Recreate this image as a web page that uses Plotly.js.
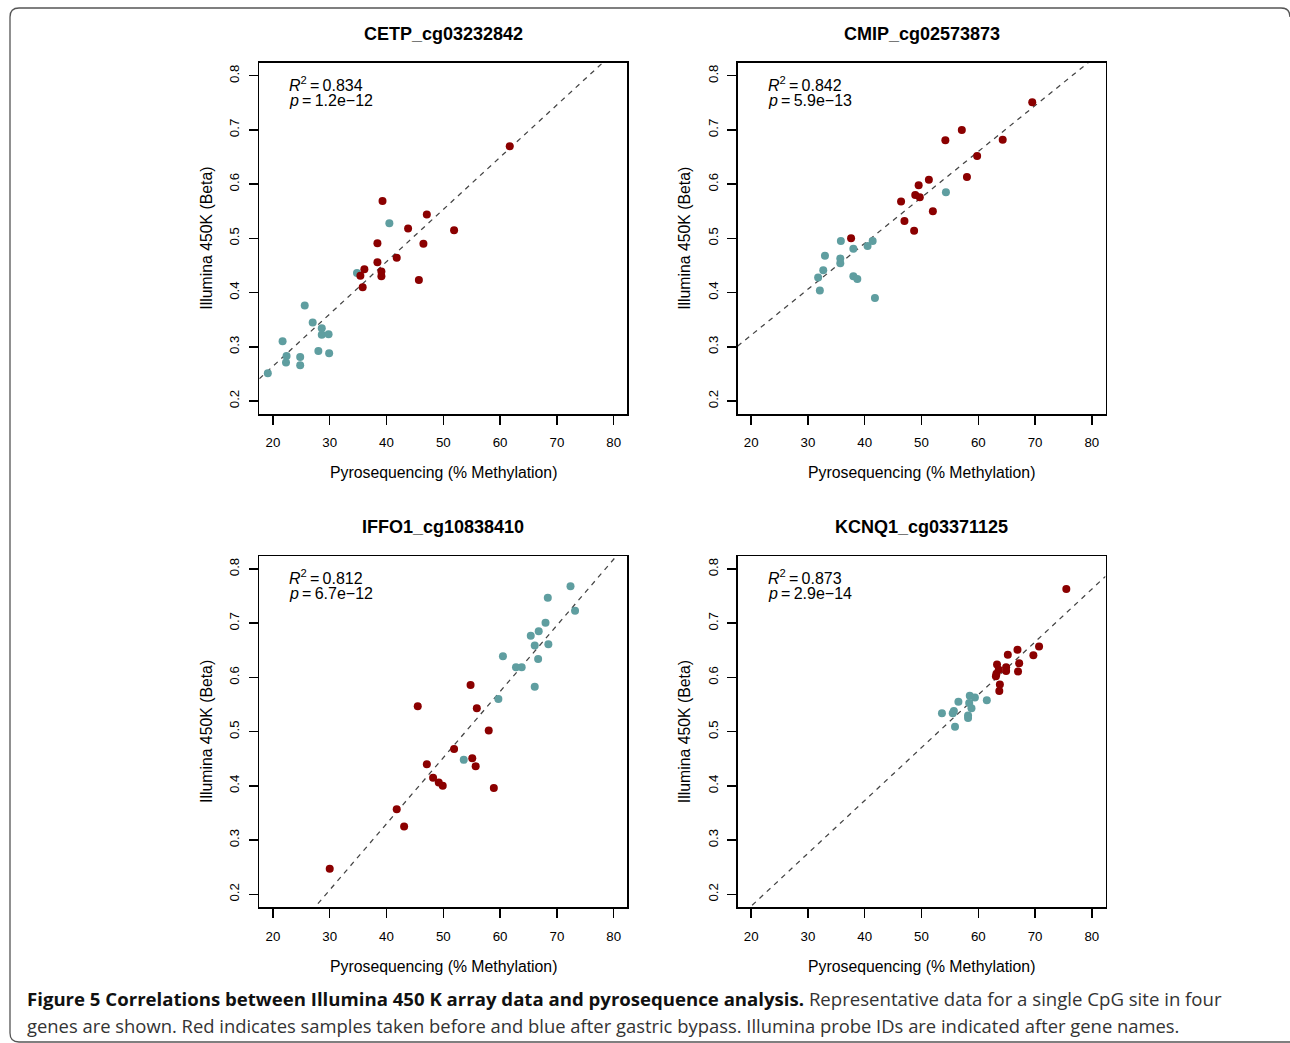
<!DOCTYPE html>
<html>
<head>
<meta charset="utf-8">
<script src="https://cdn.plot.ly/plotly-3.0.1.min.js"></script>
<style>
  html, body { margin: 0; padding: 0; background: #ffffff; }
  #chart { width: 1290px; height: 1043px; }
</style>
</head>
<body>
<div id="chart"></div>
<script>
// ---------------- DATA ----------------
const geneTitles = ["CETP_cg03232842", "CMIP_cg02573873", "IFFO1_cg10838410", "KCNQ1_cg03371125"];
const r2Labels = ["0.834", "0.842", "0.812", "0.873"];
const pLabels = ["1.2e\u221212", "5.9e\u221213", "6.7e\u221212", "2.9e\u221214"];

// CETP
const cetpPyroBefore = [61.7, 39.3, 47.1, 43.8, 51.9, 38.4, 46.5, 41.8, 38.4, 36.1, 39.1, 35.4, 39.1, 45.7, 35.8];
const cetpBetaBefore = [0.670, 0.569, 0.544, 0.518, 0.515, 0.491, 0.490, 0.464, 0.456, 0.443, 0.439, 0.431, 0.430, 0.423, 0.410];
const cetpPyroAfter = [40.5, 34.8, 25.6, 27.0, 28.6, 28.6, 29.8, 21.7, 22.4, 22.3, 24.8, 24.8, 28.0, 29.9, 19.1];
const cetpBetaAfter = [0.528, 0.436, 0.376, 0.345, 0.334, 0.322, 0.323, 0.310, 0.283, 0.271, 0.281, 0.266, 0.292, 0.288, 0.251];

// CMIP
const cmipPyroBefore = [69.5, 57.1, 54.2, 64.3, 59.8, 58.0, 51.3, 49.5, 48.9, 49.7, 46.4, 52.0, 47.0, 48.7, 37.6];
const cmipBetaBefore = [0.751, 0.700, 0.681, 0.682, 0.652, 0.613, 0.608, 0.598, 0.580, 0.576, 0.568, 0.550, 0.532, 0.514, 0.500];
const cmipPyroAfter = [54.3, 35.8, 41.4, 40.5, 38.0, 33.0, 35.7, 35.7, 32.7, 31.8, 38.0, 38.7, 32.1, 41.8];
const cmipBetaAfter = [0.585, 0.495, 0.495, 0.486, 0.481, 0.468, 0.463, 0.454, 0.441, 0.428, 0.430, 0.425, 0.404, 0.390];

// IFFO1
const iffoPyroBefore = [30.0, 41.8, 43.1, 45.5, 54.8, 55.9, 58.0, 51.9, 55.1, 55.7, 47.1, 48.2, 49.2, 49.9, 58.9];
const iffoBetaBefore = [0.247, 0.357, 0.325, 0.547, 0.586, 0.543, 0.502, 0.468, 0.451, 0.436, 0.440, 0.415, 0.406, 0.400, 0.396];
const iffoPyroAfter = [72.4, 68.4, 73.2, 68.0, 66.8, 65.4, 66.1, 68.5, 66.7, 60.5, 62.8, 63.8, 66.1, 59.7, 53.6];
const iffoBetaAfter = [0.768, 0.747, 0.723, 0.701, 0.685, 0.677, 0.659, 0.661, 0.634, 0.639, 0.619, 0.619, 0.583, 0.560, 0.448];

// KCNQ1
const kcnqPyroBefore = [75.5, 70.7, 66.9, 65.2, 69.7, 67.2, 63.3, 64.9, 63.6, 64.9, 67.0, 63.2, 63.1, 63.8, 63.7];
const kcnqBetaBefore = [0.763, 0.657, 0.651, 0.642, 0.641, 0.626, 0.624, 0.619, 0.614, 0.612, 0.611, 0.607, 0.602, 0.587, 0.575];
const kcnqPyroAfter = [58.5, 59.4, 61.5, 56.5, 58.4, 58.8, 55.7, 53.6, 55.5, 58.2, 58.2, 55.9];
const kcnqBetaAfter = [0.566, 0.563, 0.558, 0.555, 0.553, 0.543, 0.538, 0.534, 0.534, 0.530, 0.525, 0.509];

// fitted regression lines (intercept, slope)
const fitIntercepts = [0.0713, 0.152, -0.158, -0.017];
const fitSlopes = [0.00964, 0.00847, 0.0122, 0.00975];

const xTickVals = [20, 30, 40, 50, 60, 70, 80];
const yTickVals = [0.2, 0.3, 0.4, 0.5, 0.6, 0.7, 0.8];
const yTickText = ["0.2", "0.3", "0.4", "0.5", "0.6", "0.7", "0.8"];

const xTitleText = "Pyrosequencing (% Methylation)";
const yTitleText = "Illumina 450K (Beta)";
const captionBold = "Figure 5 Correlations between Illumina 450 K array data and pyrosequence analysis.";
const captionLine1 = " Representative data for a single CpG site in four";
const captionLine2 = "genes are shown. Red indicates samples taken before and blue after gastric bypass. Illumina probe IDs are indicated after gene names.";

// ---------------- LAYOUT / STYLE ----------------
const W = 1290, H = 1043;
const RED = "#8B0000", BLUE = "#5F9EA0";
const FONT = "Liberation Sans, Arial, Helvetica, sans-serif";
const xRange = [17.6, 82.4];
const yRange = [0.176, 0.824];

// plot boxes in pixels: [left, right, top, bottom]
const boxes = [
  [259.3, 627.3, 62.7, 414.0],
  [737.5, 1105.5, 62.7, 414.0],
  [259.3, 627.3, 556.0, 907.3],
  [737.5, 1105.5, 556.0, 907.3]
];
const px = v => v / W;
const py = v => 1 - v / H;

const panels = [
  [cetpPyroBefore, cetpBetaBefore, cetpPyroAfter, cetpBetaAfter],
  [cmipPyroBefore, cmipBetaBefore, cmipPyroAfter, cmipBetaAfter],
  [iffoPyroBefore, iffoBetaBefore, iffoPyroAfter, iffoBetaAfter],
  [kcnqPyroBefore, kcnqBetaBefore, kcnqPyroAfter, kcnqBetaAfter]
];

const traces = [];
const layout = {
  width: W, height: H,
  margin: {l: 0, r: 0, t: 0, b: 0},
  paper_bgcolor: "#ffffff",
  plot_bgcolor: "#ffffff",
  showlegend: false,
  font: {family: FONT, color: "#000"},
  annotations: [],
  shapes: []
};

panels.forEach((p, i) => {
  const n = i + 1;
  const xa = n === 1 ? "x" : "x" + n;
  const ya = n === 1 ? "y" : "y" + n;
  const b = boxes[i];

  // regression line
  traces.push({
    x: xRange,
    y: xRange.map(v => fitIntercepts[i] + fitSlopes[i] * v),
    xaxis: xa, yaxis: ya,
    mode: "lines", type: "scatter",
    line: {color: "#444444", width: 1.25, dash: "5px,5px"},
    hoverinfo: "skip"
  });
  // after (blue)
  traces.push({
    x: p[2], y: p[3], xaxis: xa, yaxis: ya,
    mode: "markers", type: "scatter",
    marker: {color: BLUE, size: 8, line: {width: 0}}
  });
  // before (red)
  traces.push({
    x: p[0], y: p[1], xaxis: xa, yaxis: ya,
    mode: "markers", type: "scatter",
    marker: {color: RED, size: 8, line: {width: 0}}
  });

  const axCommon = {
    showgrid: false, zeroline: false,
    showline: true, mirror: true, linecolor: "#000", linewidth: 1.5,
    ticks: "outside", ticklen: 9, tickwidth: 1.5, tickcolor: "#000",
    tickfont: {family: FONT, size: 13.3, color: "#000"},
    fixedrange: true
  };
  layout["xaxis" + (n === 1 ? "" : n)] = Object.assign({}, axCommon, {
    domain: [px(b[0]), px(b[1])],
    range: xRange,
    tickmode: "array", tickvals: xTickVals,
    ticklabelstandoff: 7,
    anchor: ya
  });
  layout["yaxis" + (n === 1 ? "" : n)] = Object.assign({}, axCommon, {
    domain: [py(b[3]), py(b[2])],
    range: yRange,
    tickmode: "array", tickvals: yTickVals, ticktext: yTickText,
    tickangle: -90,
    ticklabelstandoff: 4,
    anchor: xa
  });

  const cx = (b[0] + b[1]) / 2;
  const cy = (b[2] + b[3]) / 2;
  // panel title
  layout.annotations.push({
    xref: "paper", yref: "paper", x: px(cx), y: py(b[2] - 28.7),
    xanchor: "center", yanchor: "middle", showarrow: false,
    text: "<b>" + geneTitles[i] + "</b>",
    font: {family: FONT, size: 18, color: "#000"}
  });
  // x title
  layout.annotations.push({
    xref: "paper", yref: "paper", x: px(cx), y: py(b[3] + 59),
    xanchor: "center", yanchor: "middle", showarrow: false,
    text: xTitleText,
    font: {family: FONT, size: 15.8, color: "#000"}
  });
  // y title
  layout.annotations.push({
    xref: "paper", yref: "paper", x: px(b[0] - 53), y: py(cy),
    xanchor: "center", yanchor: "middle", showarrow: false,
    textangle: -90,
    text: yTitleText,
    font: {family: FONT, size: 15.8, color: "#000"}
  });
  // R^2 and p
  layout.annotations.push({
    xref: "paper", yref: "paper", x: px(b[0] + 28), y: py(b[2] + 21),
    xanchor: "left", yanchor: "middle", showarrow: false, align: "left",
    text: "<i>R</i><sup>2</sup>\u2009=\u20090." + r2Labels[i].slice(2),
    font: {family: FONT, size: 16, color: "#000"}
  });
  layout.annotations.push({
    xref: "paper", yref: "paper", x: px(b[0] + 28), y: py(b[2] + 37.5),
    xanchor: "left", yanchor: "middle", showarrow: false, align: "left",
    text: "<i>p</i>\u2009=\u2009" + pLabels[i],
    font: {family: FONT, size: 16, color: "#000"}
  });
});

// caption
const CAPFONT = "Open Sans, Noto Sans, sans-serif";
layout.annotations.push({
  xref: "paper", yref: "paper", x: px(25), y: py(998),
  xanchor: "left", yanchor: "middle", showarrow: false, align: "left",
  text: "<b>" + captionBold + "</b><span style='color:#333'>" + captionLine1 + "</span>",
  font: {family: CAPFONT, size: 18.6, color: "#111"}
});
layout.annotations.push({
  xref: "paper", yref: "paper", x: px(25), y: py(1025),
  xanchor: "left", yanchor: "middle", showarrow: false, align: "left",
  text: captionLine2,
  font: {family: CAPFONT, size: 18.4, color: "#333"}
});

// rounded frame around the figure
const fr = 9;
layout.shapes.push({
  type: "path", xref: "paper", yref: "paper",
  path: "M " + px(1300) + "," + py(1042) +
        " L " + px(10 + fr) + "," + py(1042) +
        " Q " + px(10) + "," + py(1042) + " " + px(10) + "," + py(1042 - fr) +
        " L " + px(10) + "," + py(8 + fr) +
        " Q " + px(10) + "," + py(8) + " " + px(10 + fr) + "," + py(8) +
        " L " + px(1281) + "," + py(8) +
        " Q " + px(1290) + "," + py(8) + " " + px(1290) + "," + py(8 + fr),
  line: {color: "#555", width: 1.3},
  fillcolor: "rgba(0,0,0,0)"
});

Plotly.newPlot("chart", traces, layout, {displayModeBar: false, staticPlot: true});
</script>
</body>
</html>
